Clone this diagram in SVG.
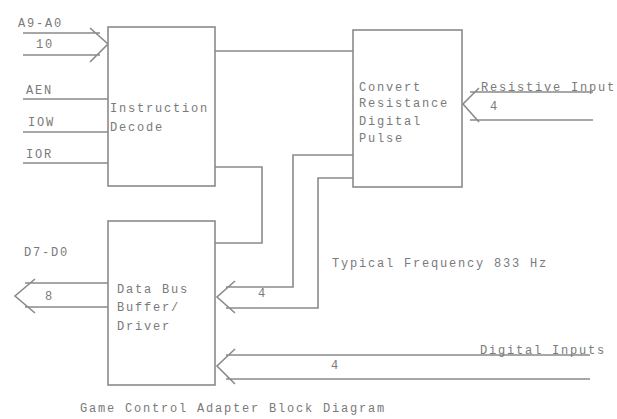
<svg xmlns="http://www.w3.org/2000/svg" width="617" height="419" viewBox="0 0 617 419">
<style>
.box{fill:#fff;stroke:#8a8a8a;stroke-width:1.6}
.ln{fill:none;stroke:#8a8a8a;stroke-width:1.6}
text{font-family:"Liberation Mono","DejaVu Sans Mono",monospace;font-size:12px;fill:#7a7a7a;letter-spacing:1.8px}
</style>
<rect width="617" height="419" fill="#fff"/>
<g id="connectors">
<!-- A9-A0 bus -->
<path class="ln" d="M23,33 H100 M23,55 H100 M90,28 L108,44 L90,62"/>
<!-- AEN IOW IOR -->
<path class="ln" d="M23,99 H108 M23,132 H108 M23,163 H108"/>
<!-- decode to convert -->
<path class="ln" d="M215,51 H353"/>
<!-- decode to data bus -->
<path class="ln" d="M215,167 H262 V243 H215"/>
<!-- convert to data bus (4) -->
<path class="ln" d="M353,155 H293 V287 H226 M353,178 H318 V308 H226 M235,281 L217,297 L235,313"/>
<!-- resistive inputs -->
<path class="ln" d="M593,92 H470 M593,120 H470 M479,88 L463,104 L479,122"/>
<!-- data bus out -->
<path class="ln" d="M108,283 H25 M108,307 H25 M35,279 L15,296 L35,313"/>
<!-- digital inputs -->
<path class="ln" d="M590,355 H226 M590,379 H226 M235,349 L217,366 L235,384"/>
</g>
<g id="instruction-decode">
<rect class="box" x="108" y="27" width="107" height="159"/>
<text x="110" y="112">Instruction</text>
<text x="110" y="131">Decode</text>
</g>
<g id="convert">
<rect class="box" x="353" y="30" width="109" height="157"/>
<text x="359" y="91">Convert</text>
<text x="359" y="107">Resistance</text>
<text x="359" y="125">Digital</text>
<text x="359" y="142">Pulse</text>
</g>
<g id="data-bus">
<rect class="box" x="108" y="221" width="107" height="164"/>
<text x="117" y="293">Data Bus</text>
<text x="117" y="311">Buffer/</text>
<text x="117" y="330">Driver</text>
</g>
<g id="labels">
<text x="18" y="27">A9-A0</text>
<text x="36" y="48">10</text>
<text x="26" y="94">AEN</text>
<text x="28" y="126">IOW</text>
<text x="26" y="158">IOR</text>
<text x="481" y="91">Resistive Input</text>
<text x="490" y="110">4</text>
<text x="24" y="256">D7-D0</text>
<text x="45" y="300">8</text>
<text x="258" y="297">4</text>
<text x="332" y="267">Typical Frequency 833 Hz</text>
<text x="480" y="354">Digital Inputs</text>
<text x="331" y="369">4</text>
<text x="80" y="412">Game Control Adapter Block Diagram</text>
</g>
</svg>
